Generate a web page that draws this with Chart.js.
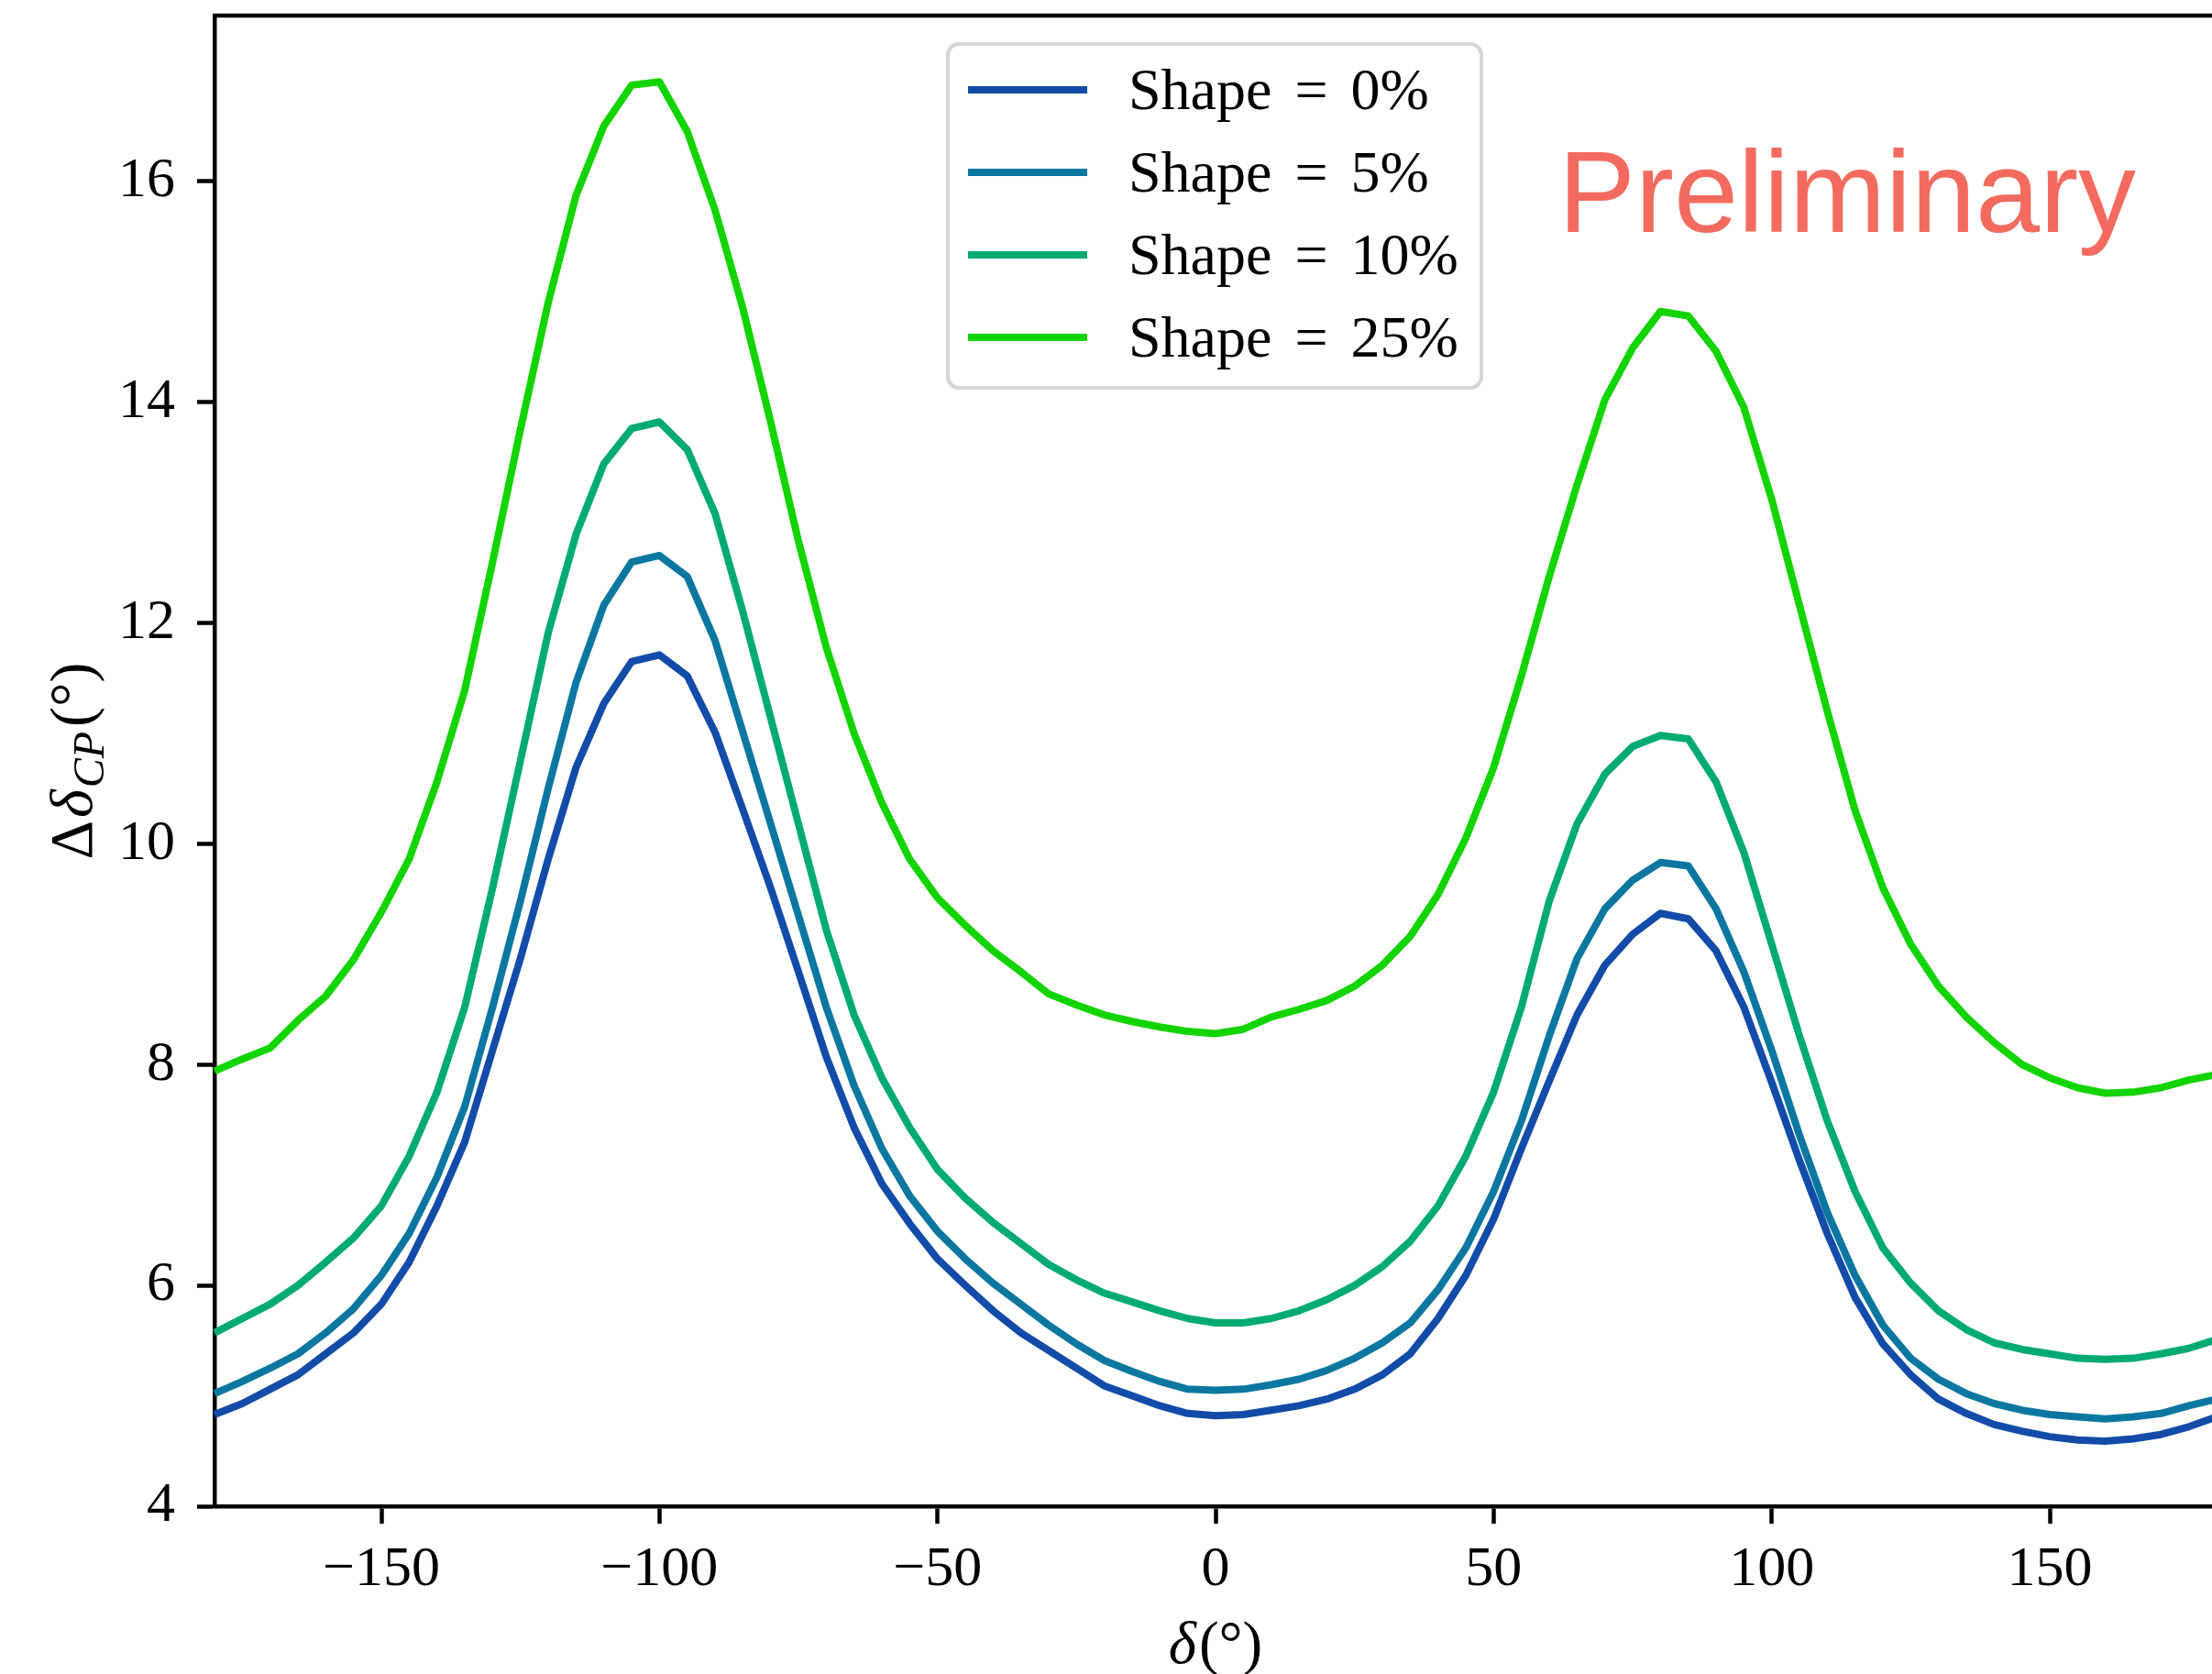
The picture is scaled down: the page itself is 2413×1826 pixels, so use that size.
<!DOCTYPE html>
<html>
<head>
<meta charset="utf-8">
<script src="https://cdn.jsdelivr.net/npm/chart.js@4.4.0/dist/chart.umd.min.js"></script>
<style>
  html, body { margin: 0; padding: 0; background: #ffffff; overflow: hidden; }
  #wrap { width: 2422px; height: 1826px; }
</style>
</head>
<body>
<div id="wrap"><canvas id="c" width="2422" height="1826"></canvas></div>
<script>
// δ (degrees) sample points
const deltaDeg = [-180,-175,-170,-165,-160,-155,-150,-145,-140,-135,-130,-125,-120,-115,-110,-105,-100,-95,-90,-85,-80,-75,-70,-65,-60,-55,-50,-45,-40,-35,-30,-25,-20,-15,-10,-5,0,5,10,15,20,25,30,35,40,45,50,55,60,65,70,75,80,85,90,95,100,105,110,115,120,125,130,135,140,145,150,155,160,165,170,175,180];

// Δδ_CP (degrees) for each shape uncertainty
const shape0 = [4.83,4.93,5.06,5.19,5.38,5.57,5.83,6.21,6.72,7.30,8.13,8.96,9.86,10.69,11.27,11.65,11.71,11.52,11.01,10.31,9.60,8.84,8.07,7.43,6.92,6.56,6.24,6.00,5.77,5.57,5.41,5.25,5.09,5.00,4.91,4.84,4.82,4.83,4.87,4.91,4.97,5.06,5.19,5.38,5.70,6.09,6.60,7.24,7.85,8.45,8.90,9.18,9.37,9.32,9.03,8.52,7.84,7.13,6.47,5.89,5.47,5.19,4.97,4.84,4.74,4.68,4.63,4.60,4.59,4.61,4.65,4.72,4.81];
const shape5 = [5.02,5.13,5.25,5.38,5.57,5.79,6.09,6.47,6.98,7.62,8.52,9.48,10.50,11.46,12.16,12.55,12.61,12.42,11.84,11.01,10.18,9.35,8.52,7.81,7.24,6.81,6.49,6.24,6.02,5.83,5.64,5.47,5.32,5.22,5.13,5.06,5.05,5.06,5.10,5.15,5.23,5.34,5.48,5.66,5.96,6.34,6.85,7.49,8.26,8.96,9.41,9.67,9.83,9.80,9.41,8.84,8.13,7.36,6.66,6.09,5.64,5.34,5.15,5.02,4.93,4.87,4.83,4.81,4.79,4.81,4.84,4.91,4.97];
const shape10 = [5.57,5.70,5.83,6.00,6.21,6.43,6.72,7.17,7.75,8.52,9.60,10.75,11.91,12.80,13.44,13.76,13.82,13.57,12.99,12.10,11.14,10.18,9.22,8.45,7.88,7.43,7.05,6.79,6.57,6.38,6.19,6.05,5.93,5.85,5.77,5.70,5.66,5.66,5.70,5.77,5.87,6.00,6.17,6.40,6.72,7.17,7.75,8.52,9.48,10.18,10.63,10.88,10.98,10.95,10.56,9.92,9.09,8.26,7.49,6.85,6.34,6.02,5.77,5.60,5.48,5.42,5.38,5.34,5.33,5.34,5.38,5.43,5.51];
const shape25 = [7.94,8.05,8.15,8.40,8.62,8.95,9.38,9.86,10.56,11.39,12.55,13.75,14.90,15.87,16.50,16.87,16.90,16.45,15.74,14.85,13.82,12.74,11.78,11.00,10.37,9.86,9.51,9.26,9.03,8.84,8.64,8.54,8.45,8.39,8.34,8.30,8.28,8.32,8.43,8.50,8.58,8.71,8.90,9.16,9.54,10.05,10.69,11.52,12.42,13.25,14.02,14.49,14.82,14.78,14.46,13.95,13.12,12.16,11.20,10.30,9.60,9.09,8.71,8.43,8.20,8.00,7.88,7.79,7.74,7.75,7.79,7.86,7.91];

const seriesLabels = ['Shape = 0%', 'Shape = 5%', 'Shape = 10%', 'Shape = 25%'];
const seriesValues = [shape0, shape5, shape10, shape25];
const seriesColors = ['#124ca8', '#0b77a0', '#00aa74', '#13d400'];

const xTicks = [-150, -100, -50, 0, 50, 100, 150];
const yTicks = [4, 6, 8, 10, 12, 14, 16];

const SERIF = "'Liberation Serif', 'DejaVu Serif', serif";
const fmt = v => (v < 0 ? '\u2212' + Math.abs(v) : String(v));

// Frame: top and right spines
const framePlugin = {
  id: 'frame',
  afterDraw(chart) {
    const { ctx, chartArea: a } = chart;
    ctx.save();
    ctx.strokeStyle = '#000';
    ctx.lineWidth = 4.5;
    ctx.beginPath();
    ctx.moveTo(a.left - 2, a.top);
    ctx.lineTo(a.right, a.top);
    ctx.lineTo(a.right, a.bottom);
    ctx.stroke();
    ctx.restore();
  }
};

// Axis titles with mixed upright / italic / subscript pieces
function drawPieces(ctx, pieces, x, y, rotate) {
  ctx.save();
  ctx.translate(x, y);
  if (rotate) ctx.rotate(-Math.PI / 2);
  ctx.fillStyle = '#000';
  ctx.textBaseline = 'alphabetic';
  ctx.textAlign = 'left';
  let total = 0;
  pieces.forEach(p => { ctx.font = p.font; p.w = ctx.measureText(p.text).width; total += p.w + (p.gap || 0); });
  let cx = -total / 2;
  pieces.forEach(p => { ctx.font = p.font; ctx.fillText(p.text, cx, p.dy || 0); cx += p.w + (p.gap || 0); });
  ctx.restore();
}

const titlesPlugin = {
  id: 'axisTitles',
  afterDraw(chart) {
    const { ctx, chartArea: a } = chart;
    const xMid = chart.scales.x.getPixelForValue(0);
    drawPieces(ctx, [
      { text: 'δ', font: `italic 65px ${SERIF}`, gap: 3 },
      { text: '(°)', font: `65px ${SERIF}` }
    ], xMid, 1814, false);
    drawPieces(ctx, [
      { text: 'Δ', font: `66px ${SERIF}`, gap: 3 },
      { text: 'δ', font: `italic 66px ${SERIF}`, gap: 2 },
      { text: 'CP', font: `italic 48px ${SERIF}`, dy: 13, gap: 5 },
      { text: '(°)', font: `66px ${SERIF}` }
    ], 100, (a.top + a.bottom) / 2, true);
  }
};

// Legend box in the upper centre and the "Preliminary" tag
const legendPlugin = {
  id: 'legendBox',
  afterDraw(chart) {
    const ctx = chart.ctx;
    ctx.save();
    const bx = 1034, by = 48, bw = 582, bh = 375;
    ctx.beginPath();
    ctx.roundRect(bx, by, bw, bh, 12);
    ctx.fillStyle = 'rgba(255,255,255,0.85)';
    ctx.fill();
    ctx.lineWidth = 4;
    ctx.strokeStyle = '#d6d6d6';
    ctx.stroke();
    ctx.font = `64px ${SERIF}`;
    if ('wordSpacing' in ctx) ctx.wordSpacing = '9px';
    ctx.textBaseline = 'middle';
    ctx.fillStyle = '#000';
    chart.data.datasets.forEach((ds, i) => {
      const y = 98 + i * 90;
      ctx.beginPath();
      ctx.moveTo(1056, y);
      ctx.lineTo(1186, y);
      ctx.lineWidth = 8;
      ctx.strokeStyle = ds.borderColor;
      ctx.stroke();
      ctx.fillText(ds.label, 1231, y + 4);
    });
    if ('wordSpacing' in ctx) ctx.wordSpacing = '0px';
    ctx.font = "126px 'Liberation Sans', Arial, sans-serif";
    ctx.fillStyle = '#f36b5f';
    ctx.textBaseline = 'alphabetic';
    ctx.fillText('Preliminary', 1700, 253);
    ctx.restore();
  }
};

const datasets = seriesLabels.map((label, i) => ({
  label,
  data: deltaDeg.map((x, j) => ({ x, y: seriesValues[i][j] })),
  borderColor: seriesColors[i],
  backgroundColor: seriesColors[i],
  borderWidth: 8,
  borderJoinStyle: 'round',
  pointRadius: 0,
  tension: 0,
  fill: false,
  clip: false
}));

new Chart(document.getElementById('c'), {
  type: 'line',
  data: { datasets },
  options: {
    responsive: false,
    animation: false,
    devicePixelRatio: 1,
    layout: { padding: { top: 17, right: 4, left: 0, bottom: 0 } },
    plugins: { legend: { display: false }, tooltip: { enabled: false } },
    scales: {
      x: {
        type: 'linear',
        min: -180, max: 180,
        afterFit: s => { s.height = 183; s.paddingLeft = 0; s.paddingRight = 0; },
        afterBuildTicks: s => { s.ticks = xTicks.map(v => ({ value: v })); },
        grid: { drawOnChartArea: false, tickLength: 19, tickWidth: 4.5, tickColor: '#000' },
        border: { display: true, color: '#000', width: 4.5 },
        ticks: { color: '#000', font: { family: SERIF, size: 62 }, padding: 14, maxRotation: 0, callback: v => fmt(v) },
        title: { display: false }
      },
      y: {
        type: 'linear',
        min: 4, max: 17.5,
        afterFit: s => { s.width = 234; s.paddingTop = 0; s.paddingBottom = 0; },
        afterBuildTicks: s => { s.ticks = yTicks.map(v => ({ value: v })); },
        grid: { drawOnChartArea: false, tickLength: 19, tickWidth: 4.5, tickColor: '#000' },
        border: { display: true, color: '#000', width: 4.5 },
        ticks: { color: '#000', font: { family: SERIF, size: 62 }, padding: 24, callback: v => fmt(v) },
        title: { display: false }
      }
    }
  },
  plugins: [framePlugin, titlesPlugin, legendPlugin]
});
</script>
</body>
</html>
